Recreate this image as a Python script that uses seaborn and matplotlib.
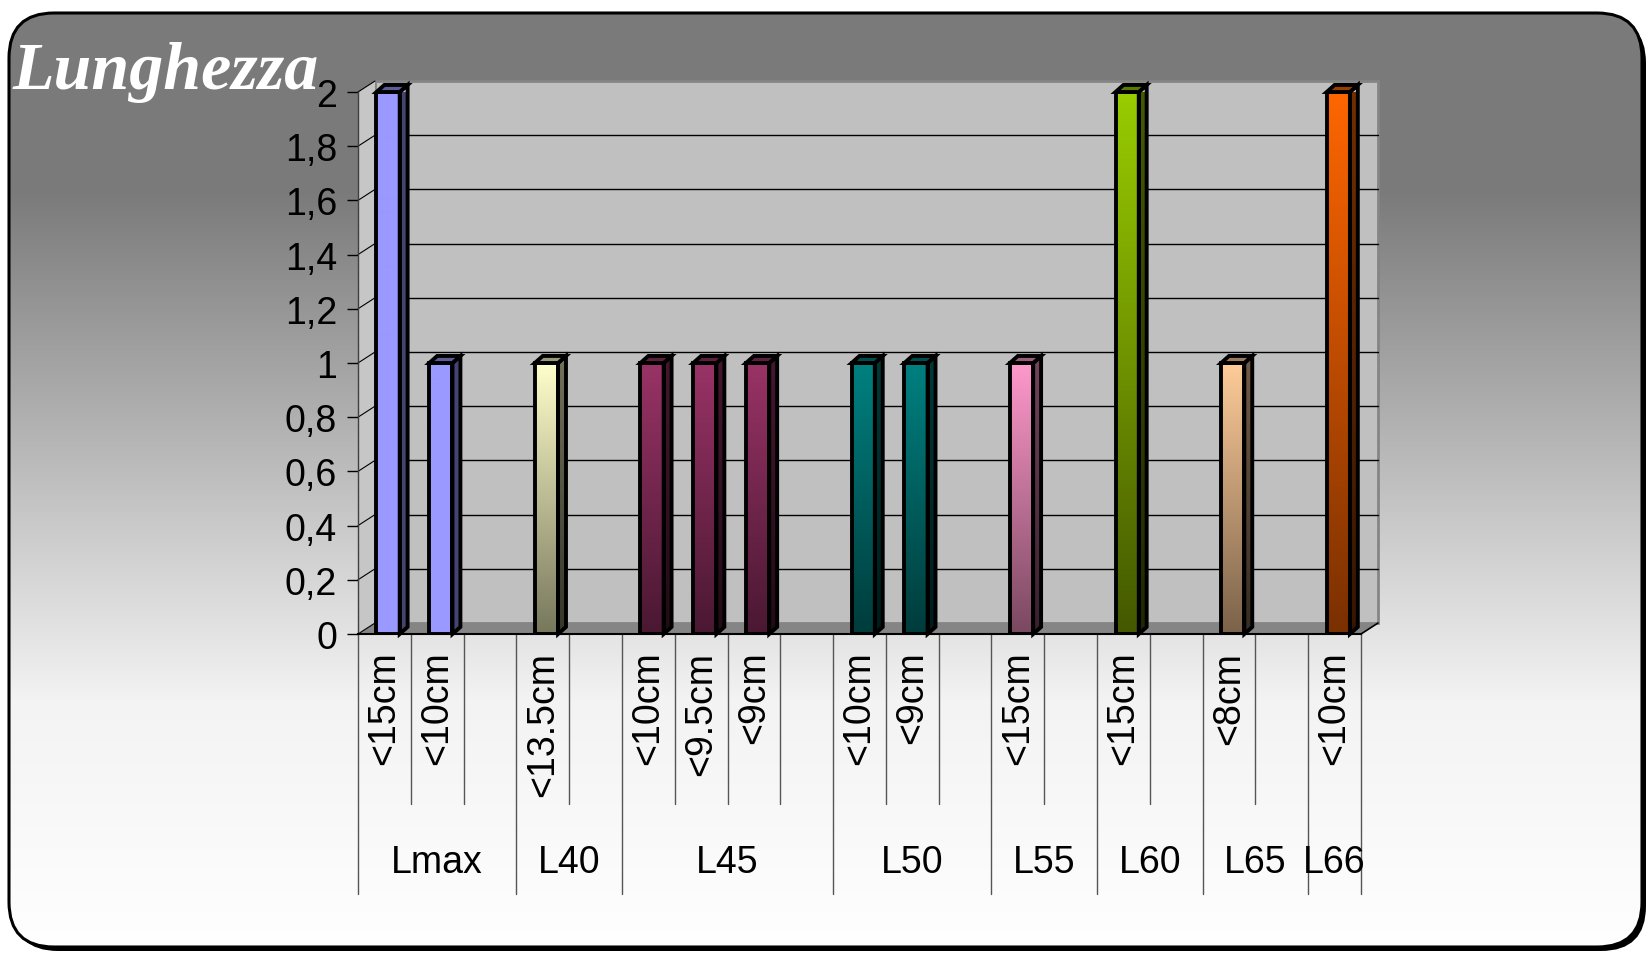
import numpy as np
import pandas as pd
import matplotlib
matplotlib.use("Agg")
import matplotlib.pyplot as plt
import seaborn as sns
from matplotlib.patches import FancyBboxPatch, Polygon, Rectangle
from matplotlib.colors import to_rgb

# ---- data ----
groups = ["Lmax", "L40", "L45", "L50", "L55", "L60", "L65", "L66"]
sizes = [["<15cm", "<10cm", ""], ["<13.5cm", ""], ["<10cm", "<9.5cm", "<9cm", ""],
         ["<10cm", "<9cm", ""], ["<15cm", ""], ["<15cm", ""], ["<8cm", ""], ["<10cm"]]
counts = [[2, 1, None], [1, None], [1, 1, 1, None], [1, 1, None],
          [1, None], [2, None], [1, None], [2]]
top_colors = ["#9999ff", "#ffffcc", "#993366", "#008080",
              "#ff99cc", "#99cc00", "#ffcc99", "#ff6600"]
bottom_colors = ["#9999ff", "#77775c", "#4a1832", "#003c3c",
                 "#7a4860", "#445800", "#7a624a", "#7a3000"]
y_ticks = [0, 0.2, 0.4, 0.6, 0.8, 1, 1.2, 1.4, 1.6, 1.8, 2]
y_labels = ["0", "0,2", "0,4", "0,6", "0,8", "1", "1,2", "1,4", "1,6", "1,8", "2"]

# one slot per size label, empty slots included
slots, slot_labels, slot_group, rows = [], [], [], []
for gi, g in enumerate(groups):
    for si, s in enumerate(sizes[gi]):
        key = f"{g}_{si}"
        slots.append(key)
        slot_labels.append(s)
        slot_group.append(gi)
        if counts[gi][si] is not None:
            rows.append({"slot": key, "group": g, "value": counts[gi][si]})
df = pd.DataFrame(rows)
n = len(slots)

sns.set_style("white")
plt.rcParams["font.family"] = ["Liberation Sans", "DejaVu Sans"]
plt.rcParams["text.color"] = "black"

W, H = 16.48, 9.54
fig = plt.figure(figsize=(W, H), dpi=100)
fig.patch.set_facecolor("white")

# ---- rounded gradient background ----
bg = fig.add_axes([0, 0, 1, 1], zorder=-5)
bg.set_xlim(0, W)
bg.set_ylim(0, H)
bg.axis("off")
shadow = FancyBboxPatch((0.13, 0.02), 16.33, 9.33, boxstyle="round,pad=0,rounding_size=0.45",
                        fc="black", ec="black", lw=0)
bg.add_patch(shadow)
frame = FancyBboxPatch((0.09, 0.06), 16.33, 9.34, boxstyle="round,pad=0,rounding_size=0.45",
                       fc="none", ec="black", lw=2.2, zorder=3)
bg.add_patch(frame)
ypx = np.arange(954)
shade = np.interp(ypx, [0, 190, 700, 954], [122, 122, 243, 255]) / 255.0
grad = np.repeat(shade[:, None], 3, axis=1)[:, None, :]
im = bg.imshow(grad, extent=[0, W, 0, H], origin="upper", aspect="auto", zorder=1)
im.set_clip_path(frame)

fig.text(13 / 1648, 1 - 89 / 954, "Lunghezza", fontsize=49, color="white",
         family="Liberation Serif", style="italic", weight="bold", va="baseline")

# ---- main axes (front plane) ----
ax = fig.add_axes([358 / 1648, 319 / 954, 1003 / 1648, 542 / 954])
ax.set_facecolor("none")

ddx, ddy = 0.322, 0.0406   # depth of the box
sdx, sdy = 0.15, 0.026     # depth of a bar
shift = 0.07               # bars sit a little behind the front edge
x0, x1 = -0.5, n - 0.5

ax.add_patch(Rectangle((x0 + ddx, ddy), n, 2, fc="#c0c0c0", ec="#858585", lw=2,
                       zorder=0.5, clip_on=False))
ax.add_patch(Polygon([(x0, 0), (x1, 0), (x1 + ddx, ddy), (x0 + ddx, ddy)],
                     closed=True, fc="#858585", ec="none", zorder=0.6, clip_on=False))
ax.add_patch(Polygon([(x0, 0), (x0 + ddx, ddy), (x0 + ddx, 2 + ddy), (x0, 2)],
                     closed=True, fc="#c6c6c6", ec="none", zorder=0.6, clip_on=False))
for v in y_ticks[1:-1]:
    ax.plot([x0 + ddx, x1 + ddx], [v + ddy, v + ddy], color="black", lw=1,
            zorder=0.7, clip_on=False)
for v in y_ticks:
    ax.plot([x0, x0 + ddx], [v, v + ddy], color="black", lw=0.8, zorder=0.7, clip_on=False)
ax.plot([x1, x1 + ddx], [0, ddy], color="black", lw=1.2, zorder=0.7, clip_on=False)

sns.barplot(data=df, x="slot", y="value", hue="group", order=slots, hue_order=groups,
            palette=dict(zip(groups, top_colors)), width=0.44, dodge=False,
            saturation=1, legend=False, ax=ax)


def ramp(c_top, c_bot, k=1.0):
    a = np.array(to_rgb(c_top)) * k
    b = np.array(to_rgb(c_bot)) * k
    t = np.linspace(0, 1, 200)[:, None]
    return (a * (1 - t) + b * t)[:, None, :]


for p in list(ax.patches):
    if not isinstance(p, Rectangle) or p.get_height() != p.get_height():
        continue
    xc = p.get_x() + p.get_width() / 2
    if abs(xc - round(xc)) > 0.01 or p.get_height() <= 0 or p.zorder < 1:
        continue
    gi = slot_group[int(round(xc))]
    p.set_x(p.get_x() + shift)
    bx0, bx1, h = p.get_x(), p.get_x() + p.get_width(), p.get_height()
    p.set_facecolor("none")
    p.set_edgecolor("black")
    p.set_linewidth(2.8)
    p.set_zorder(4)
    img = ax.imshow(ramp(top_colors[gi], bottom_colors[gi]), extent=[bx0, bx1, 0, h],
                    origin="upper", aspect="auto", zorder=3)
    img.set_clip_path(p)
    side = Polygon([(bx1, 0), (bx1 + sdx, sdy), (bx1 + sdx, h + sdy), (bx1, h)], closed=True,
                   fc="none", ec="black", lw=2.8, zorder=4, clip_on=False)
    ax.add_patch(side)
    simg = ax.imshow(ramp(top_colors[gi], bottom_colors[gi], 0.45),
                     extent=[bx1, bx1 + sdx, 0, h + sdy], origin="upper", aspect="auto", zorder=3)
    simg.set_clip_path(side)
    topc = np.array(to_rgb(top_colors[gi])) * 0.6
    ax.add_patch(Polygon([(bx0, h), (bx0 + sdx, h + sdy), (bx1 + sdx, h + sdy), (bx1, h)],
                         closed=True, fc=topc, ec="black", lw=2.8, zorder=4, clip_on=False))

ax.set_xlim(x0, x1)
ax.set_ylim(0, 2)
ax.set_xlabel("")
ax.set_ylabel("")
ax.set_yticks(y_ticks, y_labels)
ax.set_xticks(range(n), slot_labels, rotation=90)
ax.tick_params(axis="y", length=8, width=1, pad=7, labelsize=27, direction="out",
               left=True, color="black", labelcolor="black")
ax.tick_params(axis="x", length=0, pad=12, labelsize=27, labelcolor="black")
for s in ["top", "right"]:
    ax.spines[s].set_visible(False)
ax.spines["left"].set_color("#404040")
ax.spines["left"].set_linewidth(1)
ax.spines["bottom"].set_color("black")
ax.spines["bottom"].set_linewidth(1.5)
ax.spines["left"].set_zorder(0.8)

# category separators and group labels under the axis
xt = ax.get_xaxis_transform()
bounds = np.cumsum([0] + [len(s) for s in sizes]) - 0.5
for b in np.arange(n + 1) - 0.5:
    long = b in bounds
    ax.plot([b, b], [0, -0.48 if long else -0.314], transform=xt, color="#555555",
            lw=1, clip_on=False)
for gi, g in enumerate(groups):
    ax.text((bounds[gi] + bounds[gi + 1]) / 2, -0.421, g, transform=xt,
            ha="center", va="center", fontsize=27, color="black")

fig.savefig("out.png", dpi=100)
